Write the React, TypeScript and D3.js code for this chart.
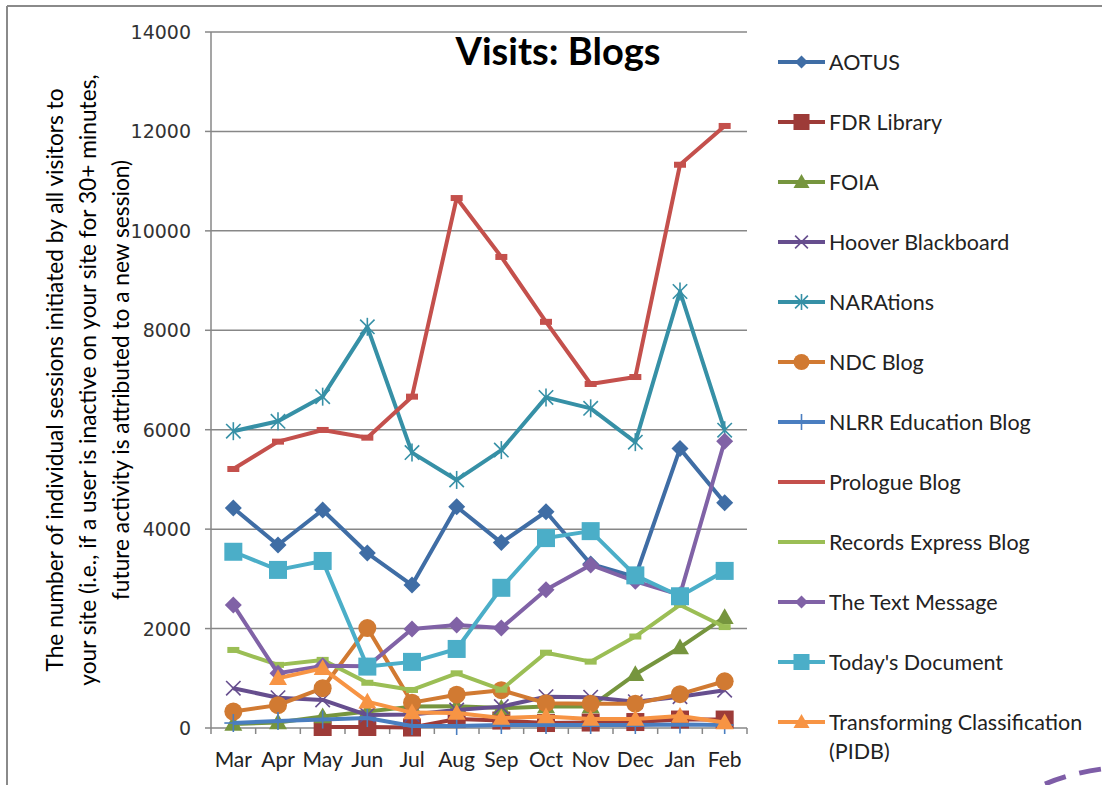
import React from "react";
import * as d3 from "d3";

const months = ["Mar", "Apr", "May", "Jun", "Jul", "Aug", "Sep", "Oct", "Nov", "Dec", "Jan", "Feb"];
const yTicks = [0, 2000, 4000, 6000, 8000, 10000, 12000, 14000];

const aotus = [4425, 3680, 4385, 3520, 2875, 4450, 3730, 4350, 3300, 3040, 5620, 4530];
const fdrLibrary = [null, null, 20, 20, 10, 180, 150, 100, 110, 120, 170, 170];
const foia = [80, 110, 230, 330, 430, 440, 400, 430, 430, 1080, 1620, 2230];
const hooverBlackboard = [800, 610, 565, 260, 270, 360, 430, 630, 620, 530, 630, 760];
const narations = [5970, 6170, 6665, 8070, 5540, 4990, 5590, 6650, 6430, 5750, 8780, 5990];
const ndcBlog = [330, 460, 800, 2010, 510, 670, 760, 500, 490, 490, 680, 940];
const nlrrEducation = [100, 140, 170, 200, 40, 40, 60, 60, 60, 60, 70, 60];
const prologueBlog = [5210, 5760, 5995, 5840, 6665, 10660, 9475, 8170, 6920, 7060, 11330, 12110];
const recordsExpress = [1570, 1270, 1370, 910, 765, 1100, 770, 1515, 1335, 1840, 2475, 2030];
const textMessage = [2475, 1100, 1250, 1240, 1990, 2070, 2010, 2780, 3280, 2950, 2680, 5770];
const todaysDocument = [3545, 3180, 3360, 1235, 1330, 1590, 2820, 3820, 3960, 3070, 2650, 3160];
const transforming = [null, 1000, 1200, 530, 310, 300, 200, 230, 180, 180, 240, 110];

type Series = { name: string[]; values: (number | null)[]; color: string; marker: string };

const series: Series[] = [
  { name: ["AOTUS"], values: aotus, color: "#3F6DA5", marker: "diamond" },
  { name: ["FDR Library"], values: fdrLibrary, color: "#9D3B38", marker: "square" },
  { name: ["FOIA"], values: foia, color: "#76953E", marker: "triangle" },
  { name: ["Hoover Blackboard"], values: hooverBlackboard, color: "#664E8E", marker: "x" },
  { name: ["NARAtions"], values: narations, color: "#3690A6", marker: "star" },
  { name: ["NDC Blog"], values: ndcBlog, color: "#D17A32", marker: "circle" },
  { name: ["NLRR Education Blog"], values: nlrrEducation, color: "#4A7EC0", marker: "plus" },
  { name: ["Prologue Blog"], values: prologueBlog, color: "#C4504C", marker: "dash" },
  { name: ["Records Express Blog"], values: recordsExpress, color: "#9BBE55", marker: "dash" },
  { name: ["The Text Message"], values: textMessage, color: "#8062A6", marker: "diamond" },
  { name: ["Today's Document"], values: todaysDocument, color: "#4BAEC8", marker: "square" },
  { name: ["Transforming Classification", "(PIDB)"], values: transforming, color: "#F79444", marker: "triangle" },
];

function Marker({ kind, x, y, color, s }: { kind: string; x: number; y: number; color: string; s: number }) {
  switch (kind) {
    case "diamond":
      return <path d={`M${x},${y - s}L${x + s},${y}L${x},${y + s}L${x - s},${y}Z`} fill={color} />;
    case "square":
      return <rect x={x - s} y={y - s} width={s * 2} height={s * 2} fill={color} />;
    case "triangle":
      return <path d={`M${x},${y - s}L${x + s},${y + s * 0.75}L${x - s},${y + s * 0.75}Z`} fill={color} />;
    case "circle":
      return <circle cx={x} cy={y} r={s} fill={color} />;
    case "x":
      return (
        <g stroke={color} strokeWidth={1.6}>
          <line x1={x - s * 0.8} y1={y - s * 0.8} x2={x + s * 0.8} y2={y + s * 0.8} />
          <line x1={x - s * 0.8} y1={y + s * 0.8} x2={x + s * 0.8} y2={y - s * 0.8} />
        </g>
      );
    case "star":
      return (
        <g stroke={color} strokeWidth={1.6}>
          <line x1={x - s * 0.8} y1={y - s * 0.8} x2={x + s * 0.8} y2={y + s * 0.8} />
          <line x1={x - s * 0.8} y1={y + s * 0.8} x2={x + s * 0.8} y2={y - s * 0.8} />
          <line x1={x} y1={y - s} x2={x} y2={y + s} />
        </g>
      );
    case "plus":
      return (
        <g stroke={color} strokeWidth={1.6}>
          <line x1={x} y1={y - s} x2={x} y2={y + s} />
          <line x1={x - s} y1={y} x2={x + s} y2={y} />
        </g>
      );
    case "dash":
      return <rect x={x - 6} y={y - 3} width={12} height={6} fill={color} />;
    default:
      return null;
  }
}

const markerSize = (kind: string) => (kind === "square" ? 9 : kind === "diamond" ? 8.5 : 9);
const legendMarkerSize = (kind: string) => (kind === "square" ? 8 : kind === "diamond" ? 6.5 : 8);

export default function App() {
  const W = 1102;
  const H = 785;
  const left = 211;
  const right = 747;
  const top = 32;
  const bottom = 728;

  const x = d3.scaleBand<string>().domain(months).range([left, right]).paddingInner(0).paddingOuter(0);
  const y = d3.scaleLinear().domain([0, 14000]).range([bottom, top]);
  const cx = (m: string) => (x(m) as number) + x.bandwidth() / 2;

  const line = d3
    .line<number | null>()
    .defined((d) => d !== null)
    .x((_, i) => cx(months[i]))
    .y((d) => y(d as number));

  const legendX = 778;
  const legendY0 = 62;
  const legendStep = 60;

  const axisColor = "#878787";

  return (
    <div style={{ position: "absolute", left: 0, top: 0 }}>
      <svg width={W} height={H} style={{ display: "block", background: "#fff" }}>
        <rect x={0} y={0} width={W} height={H} fill="#fff" />
        {/* outer frame */}
        <line x1={7} y1={6} x2={7} y2={H} stroke="#8a8a8a" strokeWidth={2} />
        <line x1={7} y1={6} x2={W} y2={6} stroke="#8a8a8a" strokeWidth={2} />

        {/* gridlines and y ticks */}
        {yTicks.map((t) => (
          <g key={t}>
            {t > 0 && <line x1={left} x2={right} y1={y(t)} y2={y(t)} stroke={axisColor} strokeWidth={1.5} />}
            <line x1={left - 6} x2={left} y1={y(t)} y2={y(t)} stroke={axisColor} strokeWidth={1.5} />
            <text x={191} y={y(t) + 7} textAnchor="end" fontFamily="DejaVu Sans" fontSize={19} fill="#333">
              {t}
            </text>
          </g>
        ))}
        {/* axes */}
        <line x1={left} x2={left} y1={top} y2={bottom} stroke={axisColor} strokeWidth={1.5} />
        <line x1={left} x2={right} y1={bottom} y2={bottom} stroke={axisColor} strokeWidth={1.5} />
        {months.map((m) => (
          <line key={m} x1={x(m) as number} x2={x(m) as number} y1={bottom} y2={bottom + 6} stroke={axisColor} strokeWidth={1.5} />
        ))}
        <line x1={right} x2={right} y1={bottom} y2={bottom + 6} stroke={axisColor} strokeWidth={1.5} />
        {months.map((m) => (
          <text key={m} x={cx(m)} y={767} textAnchor="middle" fontFamily="Lato" fontSize={21} fill="#222">
            {m}
          </text>
        ))}

        {/* series */}
        {series.map((s) => (
          <g key={s.name[0]}>
            <path d={line(s.values) || ""} fill="none" stroke={s.color} strokeWidth={4} strokeLinejoin="round" />
            {s.values.map((v, i) =>
              v === null ? null : (
                <Marker key={i} kind={s.marker} x={cx(months[i])} y={y(v)} color={s.color} s={markerSize(s.marker)} />
              )
            )}
          </g>
        ))}

        {/* title */}
        <text x={558} y={65} textAnchor="middle" fontFamily="Lato" fontWeight="bold" fontSize={38} fill="#000">
          Visits: Blogs
        </text>

        {/* y axis title */}
        <g transform="translate(88,380) rotate(-90)" fontFamily="Lato" fontSize={22.7} fill="#000" textAnchor="middle">
          <text x={0} y={-25}>The number of individual sessions initiated by all visitors to</text>
          <text x={0} y={8}>your site (i.e., if a user is inactive on your site for 30+ minutes,</text>
          <text x={0} y={41}>future activity is attributed to a new session)</text>
        </g>

        {/* legend */}
        {series.map((s, i) => {
          const ly = legendY0 + i * legendStep;
          return (
            <g key={s.name[0]}>
              <line x1={legendX} x2={legendX + 47} y1={ly} y2={ly} stroke={s.color} strokeWidth={4} />
              {s.marker !== "dash" && (
                <Marker kind={s.marker} x={legendX + 23.5} y={ly} color={s.color} s={legendMarkerSize(s.marker)} />
              )}
              {s.name.map((n, j) => (
                <text key={j} x={829} y={ly + 8 + j * 29} fontFamily="Lato" fontSize={21.5} fill="#222">
                  {n}
                </text>
              ))}
            </g>
          );
        })}

        {/* decorative dashed arc at bottom right */}
        <path d="M1045,784 Q1072,773 1102,769" fill="none" stroke="#7E5DA7" strokeWidth={5} strokeDasharray="22 14" />
      </svg>
    </div>
  );
}
